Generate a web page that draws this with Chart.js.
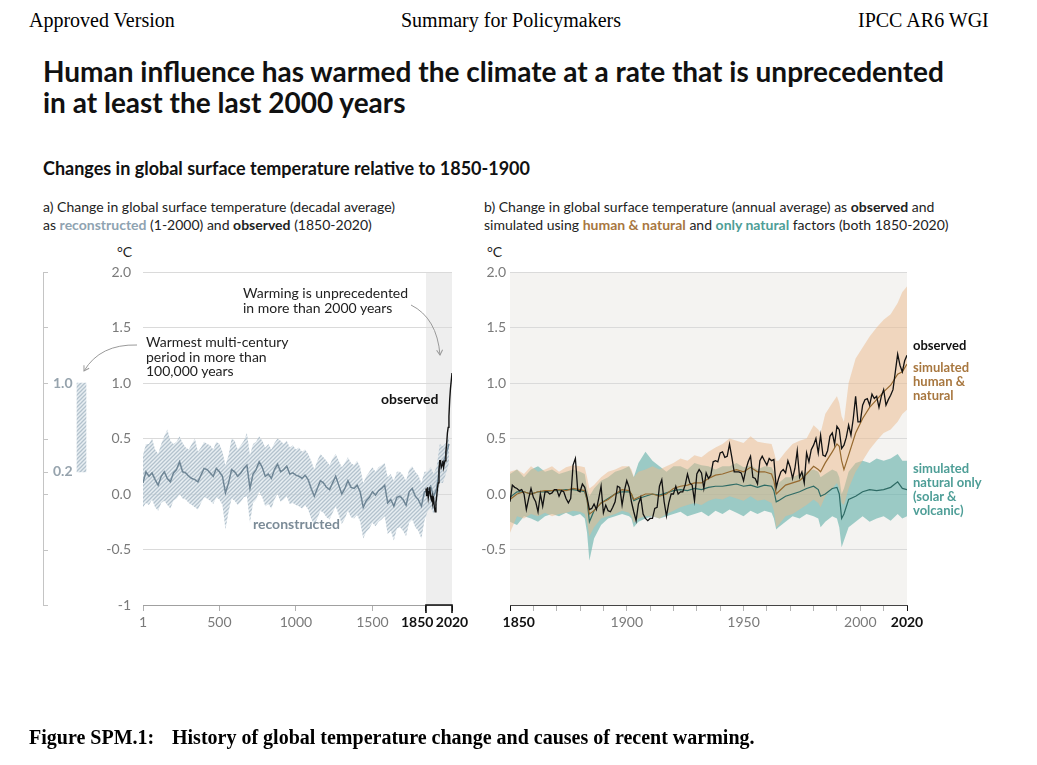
<!DOCTYPE html>
<html>
<head>
<meta charset="utf-8">
<script src="https://cdn.jsdelivr.net/npm/chart.js@4.4.1/dist/chart.umd.min.js"></script>
<style>
  body { margin: 0; width: 1037px; height: 765px; background: #fff; position: relative; overflow: hidden; font-family: Lato, sans-serif; }
  .abs { position: absolute; white-space: nowrap; }
  .serif { font-family: "Liberation Serif", serif; font-size: 20px; color: #000; }
  .title { left: 43px; top: 56px; font-size: 28px; font-weight: bold; line-height: 31px; color: #111; }
  .sub { left: 43px; top: 157px; font-size: 18px; font-weight: bold; color: #111; }
  .phead { font-size: 14px; line-height: 18px; color: #222; }
  .unit { font-size: 14px; color: #222; }
  .note { font-size: 14px; line-height: 15px; color: #222; }
  .lab { font-size: 13px; line-height: 14px; font-weight: bold; }
  canvas { position: absolute; }
</style>
</head>
<body>
<div class="abs serif" style="left:29px; top:9px;">Approved Version</div>
<div class="abs serif" style="left:401px; top:9px;">Summary for Policymakers</div>
<div class="abs serif" style="left:858px; top:9px;">IPCC AR6 WGI</div>

<div class="abs title">Human influence has warmed the climate at a rate that is unprecedented<br>in at least the last 2000 years</div>
<div class="abs sub">Changes in global surface temperature relative to 1850-1900</div>

<div class="abs phead" style="left:43px; top:198px;">a) Change in global surface temperature (decadal average)<br>as <b style="color:#8fa3b1">reconstructed</b> (1-2000) and <b>observed</b> (1850-2020)</div>
<div class="abs phead" style="left:484px; top:198px;">b) Change in global surface temperature (annual average) as <b>observed</b> and<br>simulated using <b style="color:#a8773f">human &amp; natural</b> and <b style="color:#4e9e97">only natural</b> factors (both 1850-2020)</div>

<div class="abs unit" style="left:117px; top:243px;">°C</div>
<div class="abs unit" style="left:487px; top:243px;">°C</div>

<canvas id="bar" width="70" height="383" style="left:30px; top:262px;"></canvas>
<canvas id="chartA" width="380" height="383" style="left:95px; top:262px;"></canvas>
<canvas id="chartB" width="470" height="383" style="left:462px; top:262px;"></canvas>

<div class="abs note" style="left:243px; top:285px;">Warming is unprecedented<br>in more than 2000 years</div>
<div class="abs note" style="left:146px; top:335px; line-height:14.5px;">Warmest multi-century<br>period in more than<br>100,000 years</div>
<div class="abs note" style="left:381px; top:391px; font-weight:bold; color:#111;">observed</div>
<div class="abs note" style="left:253px; top:516px; font-weight:bold; color:#7b8b97;">reconstructed</div>

<div class="abs lab" style="left:913px; top:338px; color:#111;">observed</div>
<div class="abs lab" style="left:913px; top:360px; color:#a8773f;">simulated<br>human &amp;<br>natural</div>
<div class="abs lab" style="left:913px; top:461px; color:#4e9e97;">simulated<br>natural only<br>(solar &amp;<br>volcanic)</div>

<svg class="abs" style="left:0; top:0;" width="1037" height="765">
  <defs>
    <marker id="ah" markerWidth="8" markerHeight="8" refX="6" refY="4" orient="auto" markerUnits="userSpaceOnUse">
      <path d="M1,1 L6,4 L1,7" fill="none" stroke="#999" stroke-width="1"/>
    </marker>
  </defs>
  <path d="M411,305 Q437,318 440,355" fill="none" stroke="#999" stroke-width="1" marker-end="url(#ah)"/>
  <path d="M137,345 Q100,344 84,371" fill="none" stroke="#999" stroke-width="1" marker-end="url(#ah)"/>
</svg>

<div class="abs serif" style="left:29px; top:726px; font-weight:bold;">Figure SPM.1:</div>
<div class="abs serif" style="left:172px; top:726px; font-weight:bold;">History of global temperature change and causes of recent warming.</div>

<script>
// ---- panel a: reconstructed (decadal) 1-2000 ----
var reconYears = [1,20,40,60,80,100,
  120,140,160,180,200, 220,240,260,280,300, 320,340,360,380,400, 420,440,460,480,500,
  520,540,560,580,600, 620,640,660,680,700, 720,740,760,780,800, 820,840,860,880,900,
  920,940,960,980,1000, 1020,1040,1060,1080,1100, 1120,1140,1160,1180,1200, 1220,1240,1260,1280,1300,
  1320,1340,1360,1380,1400, 1420,1440,1460,1480,1500, 1520,1540,1560,1580,1600, 1620,1640,1660,1680,1700,
  1720,1740,1760,1780,1800, 1820,1840,1860,1880,1900, 1920,1940,1960,1980,2000];
var reconMean = [0.10,0.20,0.16,0.19,0.13,0.08,
  0.16,0.20,0.14,0.11,0.19, 0.22,0.29,0.20,0.19,0.16, 0.14,0.13,0.11,0.17,0.23, 0.22,0.19,0.16,0.23,0.20,
  0.16,0.01,0.10,0.22,0.20, 0.16,0.19,0.23,0.26,0.05, 0.18,0.22,0.29,0.24,0.16, 0.18,0.14,0.22,0.27,0.20,
  0.22,0.25,0.18,0.19,0.17, 0.16,0.14,0.17,0.13,0.05, -0.02,0.05,0.12,0.10,0.06, 0.04,0.10,0.16,0.08,0.00,
  0.05,0.12,0.06,0.05,0.08, 0.02,-0.12,-0.06,-0.03,0.02, -0.01,0.03,0.05,0.08,-0.08, -0.05,-0.11,-0.03,-0.02,-0.05,
  -0.10,0.02,0.05,-0.02,-0.05, -0.11,0.02,0.03,0.07,-0.02, 0.05,0.25,0.28,0.35,0.45];
var reconHi = [0.35,0.45,0.45,0.50,0.40,0.36,
  0.45,0.52,0.58,0.48,0.45, 0.47,0.52,0.46,0.42,0.40, 0.45,0.50,0.38,0.42,0.47, 0.45,0.44,0.40,0.47,0.45,
  0.38,0.26,0.35,0.50,0.48, 0.40,0.44,0.48,0.55,0.35, 0.45,0.47,0.52,0.48,0.42, 0.45,0.40,0.46,0.50,0.48,
  0.45,0.48,0.42,0.44,0.40, 0.42,0.38,0.40,0.36,0.30, 0.22,0.30,0.36,0.33,0.30, 0.26,0.32,0.36,0.30,0.24,
  0.28,0.33,0.28,0.26,0.30, 0.24,0.10,0.16,0.20,0.24, 0.20,0.24,0.26,0.28,0.15, 0.18,0.12,0.20,0.20,0.17,
  0.12,0.22,0.25,0.20,0.17, 0.10,0.20,0.20,0.24,0.18, 0.25,0.45,0.43,0.46,0.52];
var reconLo = [-0.12,-0.08,-0.10,-0.05,-0.12,-0.15,
  -0.08,-0.06,-0.10,-0.13,-0.06, -0.04,0.00,-0.04,-0.05,-0.08, -0.10,-0.12,-0.14,-0.08,-0.03, -0.04,-0.06,-0.09,-0.03,-0.05,
  -0.10,-0.32,-0.16,-0.04,-0.06, -0.10,-0.07,-0.03,-0.02,-0.26, -0.08,-0.05,0.02,-0.03,-0.11, -0.09,-0.13,-0.05,0.00,-0.07,
  -0.05,-0.02,-0.09,-0.08,-0.10, -0.11,-0.13,-0.10,-0.14,-0.22, -0.28,-0.22,-0.15,-0.17,-0.21, -0.23,-0.17,-0.11,-0.19,-0.27,
  -0.22,-0.15,-0.21,-0.22,-0.19, -0.25,-0.40,-0.34,-0.31,-0.26, -0.29,-0.25,-0.23,-0.20,-0.36, -0.33,-0.42,-0.31,-0.30,-0.33,
  -0.38,-0.26,-0.23,-0.30,-0.33, -0.40,-0.24,-0.16,-0.12,-0.18, -0.12,0.10,0.10,0.18,0.28];

// observed decadal, panel a
var obsDecYears = [1850,1855,1860,1865,1870,1875,1880,1885,1890,1895,1900,1905,1910,1915,1920,1925,1930,1935,
  1940,1945,1950,1955,1960,1965,1970,1975,1980,1985,1990,1995,2000,2005,2010,2015,2020];
var obsDecadal = [0.05,-0.02,0.06,-0.03,0.02,0.06,-0.02,-0.05,-0.02,-0.08,-0.05,-0.12,-0.16,-0.08,-0.02,0.05,0.10,0.22,
  0.30,0.30,0.24,0.26,0.30,0.24,0.28,0.30,0.38,0.45,0.55,0.60,0.70,0.85,0.95,1.02,1.09];

// warmest multi-century period (left bar)
var warmRange = [0.2, 1.0];
var bracketTicks = [2, 1.5, 1, 0.5, 0.2, 0, -0.5, -1];
var bracketLabels = [1, 0.2];

var xTicksA = [1, 500, 1000, 1500, 1850, 2020];

// ---- panel b: annual observed and simulated 1850-2020 ----
var obsAnnual = [
  -0.07,0.08,0.06,0.05,0.03,0.04,0.00,-0.14,-0.04,0.05,
  -0.03,-0.07,-0.16,0.00,-0.11,0.02,0.02,0.00,0.01,0.04,
  0.04,-0.02,0.03,0.02,-0.04,-0.08,-0.04,0.26,0.32,0.03,
  0.02,0.09,0.06,-0.03,-0.14,-0.13,-0.09,-0.14,-0.04,0.07,
  -0.17,-0.10,-0.15,-0.16,-0.12,-0.07,0.07,0.06,-0.10,0.03,
  0.12,0.06,-0.07,-0.16,-0.24,-0.09,-0.03,-0.18,-0.22,-0.24,
  -0.22,-0.22,-0.13,-0.12,0.07,0.13,-0.07,-0.20,-0.08,0.00,
  0.00,0.07,0.00,0.02,0.02,0.08,0.18,0.10,0.08,-0.06,
  0.18,0.22,0.19,0.05,0.19,0.14,0.17,0.29,0.30,0.29,
  0.37,0.38,0.33,0.34,0.45,0.33,0.20,0.20,0.20,0.19,
  0.12,0.22,0.29,0.34,0.15,0.14,0.09,0.30,0.34,0.30,
  0.26,0.32,0.30,0.31,0.06,0.14,0.20,0.22,0.19,0.30,
  0.24,0.14,0.23,0.39,0.15,0.20,0.10,0.37,0.29,0.40,
  0.44,0.50,0.37,0.53,0.35,0.34,0.39,0.52,0.55,0.45,
  0.61,0.58,0.41,0.44,0.51,0.62,0.53,0.68,0.88,0.65,
  0.65,0.80,0.85,0.86,0.80,0.90,0.86,0.88,0.78,0.88,
  0.94,0.80,0.85,0.89,0.94,1.10,1.26,1.16,1.10,1.20,
  1.25];
var obsYears = obsAnnual.map(function (v, i) { return 1850 + i; });

var simYears = [1850,1853,1856,1859,1862,1865,1868,1871,1874,1877,
  1880,1882,1883,1884,1886,1889,1892,1895,1898,1901,
  1902,1903,1905,1908,1911,1914,1917,1920,1923,1926,
  1929,1932,1935,1938,1941,1944,1947,1950,1953,1956,
  1959,1962,1963,1964,1965,1968,1971,1974,1977,1980,
  1982,1983,1985,1988,1990,1991,1992,1993,1995,1998,
  2001,2004,2007,2010,2013,2016,2018,2020];
var humanMean = [-0.05,0.00,0.02,0.00,0.02,0.03,0.03,0.04,0.03,0.05,
  0.04,0.03,-0.05,-0.18,-0.15,-0.08,-0.05,0.00,0.04,0.03,
  0.00,-0.05,-0.03,0.00,0.00,-0.02,0.00,0.05,0.07,0.08,
  0.10,0.10,0.14,0.17,0.18,0.20,0.22,0.20,0.24,0.20,
  0.20,0.18,0.12,0.00,0.02,0.08,0.10,0.12,0.18,0.25,
  0.22,0.20,0.28,0.38,0.45,0.43,0.30,0.22,0.35,0.55,
  0.68,0.78,0.85,0.92,0.98,1.08,1.10,1.17];
var humanHi = [0.20,0.22,0.18,0.25,0.20,0.22,0.25,0.20,0.24,0.26,
  0.25,0.24,0.15,0.05,0.08,0.15,0.20,0.22,0.25,0.25,
  0.22,0.15,0.20,0.22,0.25,0.22,0.25,0.28,0.32,0.30,
  0.35,0.33,0.38,0.42,0.45,0.50,0.48,0.46,0.52,0.47,
  0.46,0.45,0.38,0.30,0.30,0.38,0.45,0.48,0.50,0.62,
  0.58,0.55,0.72,0.82,0.88,0.82,0.70,0.65,1.00,1.22,
  1.32,1.42,1.50,1.57,1.62,1.72,1.82,1.87];
var humanLo = [-0.35,-0.20,-0.22,-0.18,-0.20,-0.17,-0.20,-0.18,-0.17,-0.15,
  -0.16,-0.18,-0.25,-0.38,-0.30,-0.22,-0.20,-0.18,-0.15,-0.17,
  -0.20,-0.26,-0.22,-0.20,-0.20,-0.22,-0.18,-0.15,-0.12,-0.10,
  -0.08,-0.10,-0.06,-0.04,-0.05,-0.02,-0.04,-0.06,-0.02,-0.06,
  -0.05,-0.08,-0.15,-0.30,-0.28,-0.20,-0.18,-0.14,-0.10,-0.05,
  -0.08,-0.12,-0.02,0.05,0.10,0.05,-0.08,-0.10,0.05,0.20,
  0.30,0.40,0.48,0.55,0.58,0.65,0.72,0.76];
var naturalMean = [-0.03,0.02,0.02,0.00,0.02,0.02,0.03,0.03,0.04,0.04,
  0.03,0.02,-0.05,-0.25,-0.15,-0.08,-0.04,0.00,0.02,0.02,
  0.00,-0.06,-0.04,-0.02,0.00,-0.01,0.01,0.03,0.04,0.03,
  0.05,0.04,0.06,0.07,0.07,0.08,0.09,0.07,0.08,0.06,
  0.08,0.07,0.03,-0.07,-0.06,-0.02,0.00,0.02,0.05,0.07,
  0.04,-0.02,0.00,0.05,0.06,0.00,-0.22,-0.18,-0.05,-0.02,
  0.02,0.04,0.03,0.04,0.06,0.11,0.05,0.04];
var naturalHi = [0.18,0.22,0.15,0.22,0.25,0.20,0.22,0.18,0.20,0.22,
  0.20,0.18,0.05,-0.02,0.05,0.12,0.15,0.20,0.22,0.25,
  0.20,0.15,0.28,0.38,0.30,0.25,0.20,0.25,0.25,0.22,
  0.28,0.26,0.25,0.22,0.25,0.25,0.28,0.24,0.26,0.22,
  0.25,0.24,0.20,0.10,0.10,0.15,0.15,0.18,0.20,0.22,
  0.20,0.15,0.18,0.22,0.20,0.15,0.00,0.05,0.20,0.28,
  0.30,0.28,0.32,0.30,0.32,0.36,0.30,0.30];
var naturalLo = [-0.25,-0.28,-0.20,-0.22,-0.25,-0.20,-0.18,-0.20,-0.17,-0.20,
  -0.18,-0.22,-0.35,-0.60,-0.40,-0.28,-0.22,-0.20,-0.18,-0.20,
  -0.22,-0.30,-0.25,-0.22,-0.20,-0.22,-0.20,-0.18,-0.16,-0.20,
  -0.18,-0.16,-0.20,-0.15,-0.18,-0.14,-0.17,-0.20,-0.15,-0.18,
  -0.15,-0.17,-0.22,-0.32,-0.30,-0.25,-0.20,-0.22,-0.18,-0.20,
  -0.22,-0.30,-0.25,-0.20,-0.22,-0.30,-0.48,-0.42,-0.30,-0.25,
  -0.20,-0.25,-0.22,-0.20,-0.24,-0.18,-0.22,-0.20];

var xTicksB = [1850,1860,1870,1880,1890,1900,1910,1920,1930,1940,1950,1960,1970,1980,1990,2000,2010,2020];
var xLabelsB = [1850, 1900, 1950, 2000, 2020];
var yTicks = [-1, -0.5, 0, 0.5, 1, 1.5, 2];

Chart.defaults.font.family = 'Lato';
Chart.defaults.animation = false;

function pts(xs, ys) {
  return xs.map(function (x, i) { return { x: x, y: ys[i] }; });
}

// hatch pattern for the reconstruction range
function hatch() {
  var c = document.createElement('canvas');
  c.width = 4; c.height = 4;
  var g = c.getContext('2d');
  g.fillStyle = 'rgba(214,224,231,0.55)';
  g.fillRect(0, 0, 4, 4);
  g.strokeStyle = '#b3c2cd';
  g.lineWidth = 1.3;
  g.beginPath();
  g.moveTo(0, 4); g.lineTo(4, 0);
  g.moveTo(-1, 1); g.lineTo(1, -1);
  g.moveTo(3, 5); g.lineTo(5, 3);
  g.stroke();
  return g.createPattern(c, 'repeat');
}
var hatchFill = hatch();

// y axis shared by both panels; tick marks are invisible and only space the labels
function yScale(gap, bottomLabel) {
  return {
    min: -1, max: 2,
    afterBuildTicks: function (s) { s.ticks = yTicks.map(function (v) { return { value: v }; }); },
    border: { display: false },
    grid: {
      drawTicks: true, tickLength: gap, tickColor: 'rgba(0,0,0,0)',
      color: function (c) { return c.tick && c.tick.value === -1 ? 'rgba(0,0,0,0)' : '#dadada'; }
    },
    afterFit: function (s) { s.width = 48; },
    ticks: {
      padding: 0, color: '#7a7a7a', font: { size: 14 },
      callback: function (v) { return v === -1 ? bottomLabel : v.toFixed(1); }
    }
  };
}

// left bar with its bracket axis
var bracketAxis = {
  id: 'bracketAxis',
  afterDraw: function (chart) {
    var ctx = chart.ctx, y = chart.scales.y;
    var x0 = 13;
    ctx.save();
    ctx.strokeStyle = '#c4c4c4';
    ctx.lineWidth = 1;
    ctx.beginPath();
    ctx.moveTo(x0 + 0.5, y.getPixelForValue(2));
    ctx.lineTo(x0 + 0.5, y.getPixelForValue(-1));
    bracketTicks.forEach(function (v) {
      var p = Math.round(y.getPixelForValue(v)) + 0.5;
      ctx.moveTo(x0, p); ctx.lineTo(x0 + 5, p);
    });
    ctx.stroke();
    ctx.fillStyle = '#96a3ad';
    ctx.font = 'bold 14px Lato';
    ctx.textBaseline = 'middle';
    bracketLabels.forEach(function (v) {
      ctx.fillText(v.toFixed(1), x0 + 10, y.getPixelForValue(v));
    });
    ctx.restore();
  }
};

new Chart('bar', {
  type: 'bar',
  data: {
    labels: ['warmest'],
    datasets: [{ data: [warmRange], backgroundColor: hatchFill, barThickness: 9 }]
  },
  options: {
    responsive: false,
    layout: { padding: { top: 10, bottom: 40, left: 33, right: 0 } },
    plugins: { legend: { display: false }, tooltip: { enabled: false } },
    scales: {
      x: { display: false },
      y: { display: false, min: -1, max: 2 }
    }
  },
  plugins: [bracketAxis]
});

// panel a
var shadeA = {
  id: 'shadeA',
  beforeDraw: function (chart) {
    var ctx = chart.ctx, a = chart.chartArea, x = chart.scales.x;
    var x1 = x.getPixelForValue(1850), x2 = x.getPixelForValue(2020);
    ctx.save();
    ctx.fillStyle = '#eeeeee';
    ctx.fillRect(x1, a.top, x2 - x1, a.bottom - a.top);
    ctx.restore();
  },
  afterDraw: function (chart) {
    var ctx = chart.ctx, a = chart.chartArea, x = chart.scales.x;
    var x1 = x.getPixelForValue(1850), x2 = x.getPixelForValue(2020);
    ctx.save();
    ctx.strokeStyle = '#111';
    ctx.lineWidth = 1.6;
    ctx.beginPath();
    ctx.moveTo(x1, a.bottom + 8); ctx.lineTo(x1, a.bottom);
    ctx.lineTo(x2, a.bottom); ctx.lineTo(x2, a.bottom + 8);
    ctx.stroke();
    ctx.restore();
  }
};

new Chart('chartA', {
  type: 'line',
  data: {
    datasets: [
      { data: pts(obsDecYears, obsDecadal), borderColor: '#111', borderWidth: 1.4, pointRadius: 0, fill: false, order: 1 },
      { data: pts(reconYears, reconMean), borderColor: '#6f8696', borderWidth: 1.5, pointRadius: 0, fill: false, order: 2 },
      { data: pts(reconYears, reconHi), borderWidth: 0, pointRadius: 0, backgroundColor: hatchFill, fill: '+1', order: 3 },
      { data: pts(reconYears, reconLo), borderWidth: 0, pointRadius: 0, fill: false, order: 4 }
    ]
  },
  options: {
    responsive: false,
    layout: { padding: { top: 10, right: 23, bottom: 0, left: 0 } },
    plugins: { legend: { display: false }, tooltip: { enabled: false } },
    scales: {
      x: {
        type: 'linear', min: 1, max: 2020,
        afterBuildTicks: function (s) { s.ticks = xTicksA.map(function (v) { return { value: v }; }); },
        afterFit: function (s) { s.height = 40; },
        border: { display: true, color: '#a0a0a0' },
        grid: {
          drawOnChartArea: false, tickLength: 6,
          tickColor: function (c) { return c.tick && c.tick.value >= 1850 ? '#111' : '#b0b0b0'; }
        },
        ticks: {
          autoSkip: false, maxRotation: 0, padding: 3,
          callback: function (v) { return v === 1850 ? '1850\u2003\u2002' : String(v); },
          color: function (c) { return c.tick && c.tick.value >= 1850 ? '#111' : '#7a7a7a'; },
          font: function (c) {
            return { family: 'Lato', size: 14, weight: c.tick && c.tick.value >= 1850 ? 'bold' : 'normal' };
          }
        }
      },
      y: yScale(12, '-1')
    }
  },
  plugins: [shadeA]
});

// panel b
var bgB = {
  id: 'bgB',
  beforeDraw: function (chart) {
    var ctx = chart.ctx, a = chart.chartArea;
    ctx.save();
    ctx.fillStyle = '#f4f3f1';
    ctx.fillRect(a.left, a.top, a.right - a.left, a.bottom - a.top);
    ctx.restore();
  }
};

new Chart('chartB', {
  type: 'line',
  data: {
    datasets: [
      { data: pts(obsYears, obsAnnual), borderColor: '#111', borderWidth: 1.3, pointRadius: 0, fill: false, order: 1 },
      { data: pts(simYears, humanMean), borderColor: '#96692f', borderWidth: 1.2, pointRadius: 0, fill: false, order: 2 },
      { data: pts(simYears, naturalMean), borderColor: '#2e6b65', borderWidth: 1.2, pointRadius: 0, fill: false, order: 3 },
      { data: pts(simYears, humanHi), borderWidth: 0, pointRadius: 0, backgroundColor: 'rgba(236,186,140,0.5)', fill: '+1', order: 5 },
      { data: pts(simYears, humanLo), borderWidth: 0, pointRadius: 0, fill: false, order: 6 },
      { data: pts(simYears, naturalHi), borderWidth: 0, pointRadius: 0, backgroundColor: 'rgba(95,175,168,0.6)', fill: '+1', order: 7 },
      { data: pts(simYears, naturalLo), borderWidth: 0, pointRadius: 0, fill: false, order: 8 }
    ]
  },
  options: {
    responsive: false,
    layout: { padding: { top: 10, right: 25, bottom: 0, left: 0 } },
    plugins: { legend: { display: false }, tooltip: { enabled: false } },
    scales: {
      x: {
        type: 'linear', min: 1850, max: 2020,
        afterBuildTicks: function (s) { s.ticks = xTicksB.map(function (v) { return { value: v }; }); },
        afterFit: function (s) { s.height = 40; },
        border: { display: true, color: '#444' },
        grid: {
          drawOnChartArea: false, tickLength: 6,
          tickColor: function (c) { return c.tick && (c.tick.value === 1850 || c.tick.value === 2020) ? '#111' : '#b5b5b5'; }
        },
        ticks: {
          autoSkip: false, maxRotation: 0, padding: 3,
          callback: function (v) {
            if (xLabelsB.indexOf(v) < 0) return '';
            return v === 1850 ? '\u2003\u2002' + v : String(v);
          },
          color: function (c) { return c.tick && (c.tick.value === 1850 || c.tick.value === 2020) ? '#111' : '#7a7a7a'; },
          font: function (c) {
            var b = c.tick && (c.tick.value === 1850 || c.tick.value === 2020);
            return { family: 'Lato', size: 14, weight: b ? 'bold' : 'normal' };
          }
        }
      },
      y: yScale(4, '')
    }
  },
  plugins: [bgB]
});
</script>
</body>
</html>
